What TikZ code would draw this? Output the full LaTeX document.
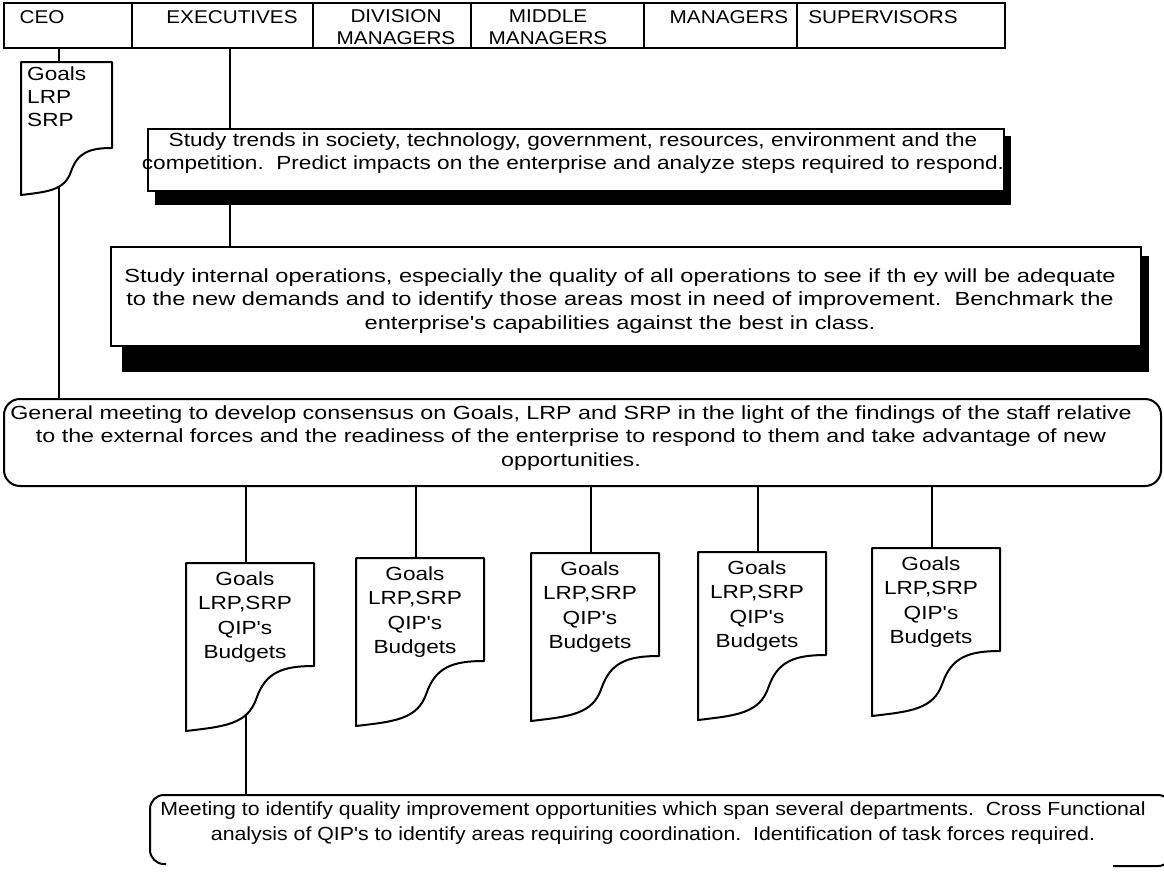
\documentclass[tikz,border=0pt]{standalone}
\usepackage{fontspec}
\setmainfont{Liberation Sans}[FakeStretch=1.19]
\newfontfamily\bodyfont{Liberation Sans}[FakeStretch=1.19]
\newfontfamily\widefont{Liberation Sans}[FakeStretch=1.245]
\newfontfamily\midfont{Liberation Sans}[FakeStretch=1.225]
\newfontfamily\narrowfont{Liberation Sans}[FakeStretch=1.12]
\newfontfamily\headfont{Liberation Sans}[FakeStretch=1.12]
\usetikzlibrary{calc}
\pgfdeclarelayer{bg}
\pgfdeclarelayer{back}
\pgfsetlayers{bg,back,main}

\tikzset{
  edge/.style={line width=2pt},
  link/.style={line width=1.8pt},
  boxed/.style={draw, line width=2pt, fill=white, inner sep=0pt, anchor=north west},
  body/.style={inner sep=0pt, align=center, font=\bodyfont\fontsize{19}{23}\selectfont},
  hdr/.style={inner sep=0pt, align=center, font=\headfont\fontsize{18.5}{22}\selectfont},
  doctext/.style={inner sep=0pt, align=center, font=\bodyfont\fontsize{19}{24.5}\selectfont},
  cell/.style={draw, line width=2pt, anchor=north west, minimum height=45pt, inner sep=0pt},
  dropshade/.style={fill=black},
}

% document symbol with a curled lower edge
% #1 name, #2 left, #3 top, #4 width, #5 length of right side, #6 length of left side
\newcommand{\docsym}[6]{%
  \draw[edge, fill=white, line join=round] (#2,#3+#6) -- (#2,#3) -- (#2+#4,#3) -- (#2+#4,#3+#5)
    .. controls (#2+0.75*#4,#3+#5) and (#2+0.62*#4,#3+0.9*#5+0.1*#6) .. (#2+0.55*#4,#3+0.5*#5+0.5*#6)
    .. controls (#2+0.48*#4,#3+0.1*#5+0.9*#6) and (#2+0.3*#4,#3+0.07*#5+0.93*#6) .. (#2,#3+#6) -- cycle;
  \coordinate (#1-top) at (#2+0.47*#4,#3);
}

\begin{document}
\begin{tikzpicture}[x=1pt,y=-1pt]
\useasboundingbox (0,0) rectangle (1164,873);
\begin{pgfonlayer}{bg}
  \fill[white] (0,0) rectangle (1164,873);
\end{pgfonlayer}

% header row of management levels
\node[cell, minimum width=128pt] (ceo) at (3,2) {};
\node[cell, minimum width=181pt] (exe) at (131,2) {};
\node[cell, minimum width=158pt] (div) at (312,2) {};
\node[cell, minimum width=173pt] (mid) at (470,2) {};
\node[cell, minimum width=153pt] (man) at (643,2) {};
\node[cell, minimum width=208pt] (sup) at (796,2) {};
\node[hdr] (ceo-t) at (42,17) {CEO};
\node[hdr] (exe-t) at (232,17) {EXECUTIVES};
\node[hdr] (div-t) at (396,27.5) {DIVISION\\MANAGERS};
\node[hdr] (mid-t) at (548,27.5) {MIDDLE\\MANAGERS};
\node[hdr] (man-t) at (729,17) {MANAGERS};
\node[hdr] (sup-t) at (883,17) {SUPERVISORS};

% CEO's goals document
\docsym{goals}{21}{62}{91}{86}{133}
\node[body, align=left, anchor=west] (goals-t) at (27,97) {Goals\\LRP\\SRP};

% staff studies
\node[boxed, minimum width=856pt, minimum height=62pt] (trends) at (147,128) {};
\node[body] (trends-t) at (573,153)
  {Study trends in society, technology, government, resources, environment and the\\
   competition.\ \ Predict impacts on the enterprise and analyze steps required to respond.};
\node[boxed, minimum width=1030pt, minimum height=99pt] (internal) at (110,246) {};
\node[body, font=\widefont\fontsize{19}{23.5}\selectfont] (internal-t) at (620,301)
  {Study internal operations, especially the quality of all operations to see if th ey will be adequate\\
   to the new demands and to identify those areas most in need of improvement.\ \ Benchmark the\\
   enterprise's capabilities against the best in class.};

% general meeting
\node[boxed, rounded corners=16pt, minimum width=1157pt, minimum height=87pt] (general) at (3,398) {};
\node[body, font=\midfont\fontsize{19}{23.5}\selectfont] (general-t) at (571,438)
  {General meeting to develop consensus on Goals, LRP and SRP in the light of the findings of the staff relative\\
   to the external forces and the readiness of the enterprise to respond to them and take advantage of new\\
   opportunities.};

% departmental documents
\docsym{d1}{186}{563}{128}{103}{168}
\docsym{d2}{356}{558}{128}{103}{168}
\docsym{d3}{531}{553}{128}{103}{168}
\docsym{d4}{698}{552}{128}{103}{168}
\docsym{d5}{872}{548}{128}{103}{168}
\node[doctext] (d1-t) at (245,617) {Goals\\LRP,SRP\\QIP's\\Budgets};
\node[doctext] (d2-t) at (415,612) {Goals\\LRP,SRP\\QIP's\\Budgets};
\node[doctext] (d3-t) at (590,607) {Goals\\LRP,SRP\\QIP's\\Budgets};
\node[doctext] (d4-t) at (757,606) {Goals\\LRP,SRP\\QIP's\\Budgets};
\node[doctext] (d5-t) at (931,602) {Goals\\LRP,SRP\\QIP's\\Budgets};

% cross functional meeting (lower edge only partly printed)
\coordinate (cross-nw) at (150,795);
\coordinate (cross-ne) at (1172,795);
\draw[edge, rounded corners=14pt] (166,864) -- (150,864) -- (cross-nw) -- (cross-ne) -- (1172,830);
\draw[edge, rounded corners=14pt] (1113,866) -- (1172,866) -- (1172,845);
\node[body, font=\narrowfont\fontsize{19}{25}\selectfont] (cross-t) at (653,823)
  {Meeting to identify quality improvement opportunities which span several departments.\ \ Cross Functional\\
   analysis of QIP's to identify areas requiring coordination.\ \ Identification of task forces required.};

% connectors and drop shadows behind the boxes
\begin{pgfonlayer}{back}
  \coordinate (ceoline) at (59,0);
  \coordinate (exeline) at (230,0);
  \draw[link] (ceoline |- ceo.south) -- (ceoline |- general.north);
  \draw[link] (exeline |- exe.south) -- (exeline |- internal.north);
  \foreach \docname in {d1,d2,d3,d4,d5}
    \draw[link] (\docname-top |- general.south) -- (\docname-top);
  \draw[link] (d1-top |- d1-t.center) -- (d1-top |- cross-nw);
  \fill[dropshade] ($(trends.north west)+(8,8)$) rectangle ($(trends.south east)+(6,13)$);
  \fill[dropshade] ($(internal.north west)+(12,10)$) rectangle ($(internal.south east)+(7,25)$);
\end{pgfonlayer}
\end{tikzpicture}
\end{document}
